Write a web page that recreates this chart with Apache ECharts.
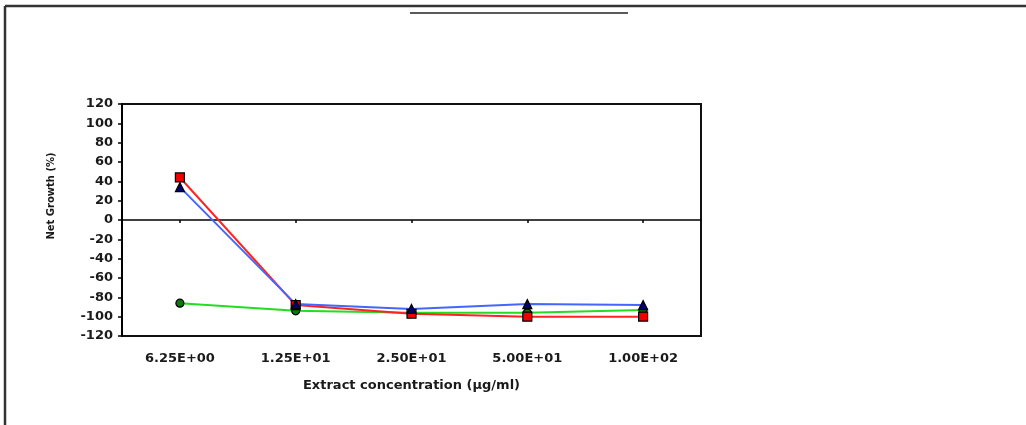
<!DOCTYPE html>
<html>
<head>
<meta charset="utf-8">
<script src="https://cdn.jsdelivr.net/npm/echarts@6/dist/echarts.min.js"></script>
<style>
html,body{margin:0;padding:0;background:#fff;}
#c{width:1026px;height:425px;}
</style>
</head>
<body>
<div id="c"></div>
<script>
const categories = ['6.25E+00', '1.25E+01', '2.50E+01', '5.00E+01', '1.00E+02'];
const redValues = [44, -88, -97, -100, -100];
const blueValues = [34, -87, -92, -87, -88];
const greenValues = [-86, -94, -96, -96, -93];
const yMin = -120, yMax = 120, yStep = 20;

const chart = echarts.init(document.getElementById('c'));
const fontFam = '"DejaVu Sans", Verdana, sans-serif';
function mk(name, data, line, fill, symbol, size) {
  return {
    name: name, type: 'line', data: data, xAxisIndex: 0,
    symbol: symbol, symbolSize: size, showSymbol: true,
    lineStyle: {color: line, width: 2},
    itemStyle: {color: fill, borderColor: '#000', borderWidth: 1.2},
    z: 3, animation: false
  };
}
chart.setOption({
  animation: false,
  grid: {left: 122, top: 104, width: 579, height: 232, show: true, borderColor: '#111', borderWidth: 2, backgroundColor: 'transparent'},
  xAxis: [{
    type: 'category', data: categories, position: 'bottom',
    axisLine: {show: false, onZero: false},
    axisTick: {show: false},
    axisLabel: {margin: 16, color: '#1a1a1a', fontSize: 13, fontFamily: fontFam, fontWeight: 'bold'},
    name: 'Extract concentration (µg/ml)', nameLocation: 'middle', nameGap: 43,
    nameTextStyle: {color: '#1a1a1a', fontSize: 13, fontWeight: 'bold', fontFamily: fontFam},
    splitLine: {show: false}
  }, {
    type: 'category', data: categories, position: 'bottom',
    axisLine: {show: true, onZero: true, lineStyle: {color: '#000', width: 1.5}},
    axisTick: {show: true, alignWithLabel: true, inside: false, length: 3, lineStyle: {color: '#000', width: 1.5}},
    axisLabel: {show: false},
    splitLine: {show: false}
  }],
  yAxis: {
    type: 'value', min: yMin, max: yMax, interval: yStep,
    axisLine: {show: true, lineStyle: {color: '#000', width: 2}},
    axisTick: {show: true, length: 4, lineStyle: {color: '#000', width: 1.5}},
    axisLabel: {color: '#1a1a1a', fontSize: 13, fontFamily: fontFam, fontWeight: 'bold', margin: 9},
    splitLine: {show: false},
    name: 'Net Growth (%)', nameLocation: 'middle', nameGap: 66, nameRotate: 90,
    nameTextStyle: {color: '#1a1a1a', fontSize: 10, fontWeight: 'bold', fontFamily: fontFam, padding: [0, 0, 0, 48]}
  },
  series: [
    mk('green', greenValues, '#22dd22', '#0a7a0a', 'circle', 8),
    mk('red', redValues, '#ff2222', '#ee0000', 'rect', 9),
    mk('blue', blueValues, '#4466ff', '#000070', 'triangle', 9)
  ],
  graphic: [
    {type: 'line', shape: {x1: 5, y1: 6, x2: 1026, y2: 6}, style: {stroke: '#333', lineWidth: 2.5}},
    {type: 'line', shape: {x1: 5, y1: 6, x2: 5, y2: 425}, style: {stroke: '#333', lineWidth: 2.5}},
    {type: 'line', shape: {x1: 410, y1: 13, x2: 628, y2: 13}, style: {stroke: '#222', lineWidth: 1.5}}
  ]
});
</script>
</body>
</html>
